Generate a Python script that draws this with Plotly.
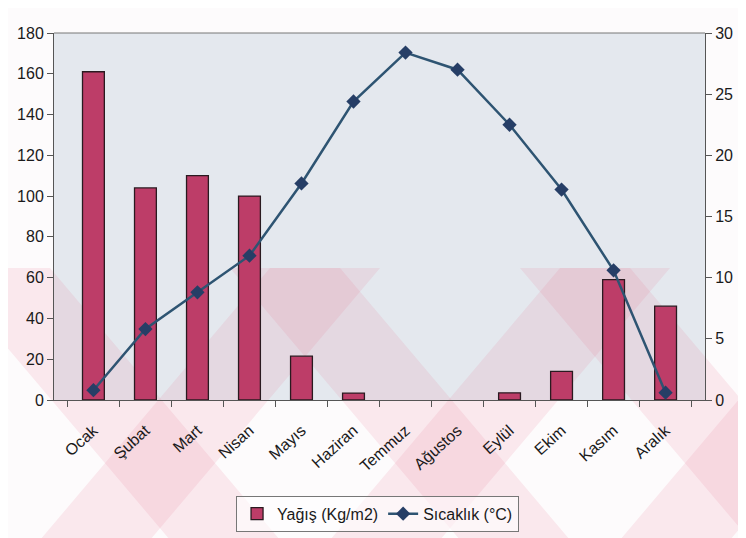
import plotly.graph_objects as go

months = ['Ocak', 'Şubat', 'Mart', 'Nisan', 'Mayıs', 'Haziran',
          'Temmuz', 'Ağustos', 'Eylül', 'Ekim', 'Kasım', 'Aralık']
rain = [161, 104, 110, 100, 21.5, 3.4, 0, 0, 3.5, 14, 59, 46]
temp = [0.8, 5.8, 8.8, 11.8, 17.7, 24.4, 28.4, 27.0, 22.5, 17.2, 10.6, 0.6]

fig = go.Figure()

# Precipitation bars on the left axis (no outline for empty months)
fig.add_trace(go.Bar(
    x=months,
    y=rain,
    name='Yağış (Kg/m2)',
    marker=dict(color='#BD3D68',
                line=dict(color='#2A1A20', width=[1.3 if v > 0 else 0 for v in rain])),
    width=0.42
))

# Temperature line on the right axis
fig.add_trace(go.Scatter(
    x=months,
    y=temp,
    name='Sıcaklık (°C)',
    mode='lines+markers',
    yaxis='y2',
    line=dict(color='#2E5472', width=2.5),
    marker=dict(symbol='diamond', size=11, color='#263E66')
))


# faint pink watermark of the scanned page, given in window pixels
def to_paper(px, py):
    return (px - 54) / 651, (400 - py) / 367


def band(x_top, x_bot, w, top=268, bottom=540):
    pts = [(x_top, top), (x_top + w, top), (x_bot + w, bottom), (x_bot, bottom)]
    pts = [to_paper(*p) for p in pts]
    return 'M ' + ' L '.join(f'{a:.4f} {b:.4f}' for a, b in pts) + ' Z'


stripes = []
for start in [-60, 230, 520]:
    stripes.append(band(start, start + 230, 110))   # "\" direction
for start in [40, 330, 620]:
    stripes.append(band(start + 230, start, 110))   # "/" direction

shapes = [dict(type='path', xref='paper', yref='paper', path=p,
               fillcolor='rgba(232,110,140,0.13)', line=dict(width=0),
               layer='below') for p in stripes]
shapes.append(dict(type='line', xref='paper', yref='paper', x0=0, x1=1, y0=1, y1=1,
                   line=dict(color='#777777', width=1)))

# the page body adds an 8px offset, so the figure is 8px smaller than the window
fig.update_layout(
    width=738,
    height=530,
    margin=dict(l=46, r=41, t=25, b=138, autoexpand=False),
    paper_bgcolor='#FDFBFC',
    plot_bgcolor='#E4E8EE',
    font=dict(family='Liberation Sans, Arial, sans-serif', size=16, color='#1A1A1A'),
    showlegend=True,
    bargap=0.58,
    shapes=shapes,
    xaxis=dict(
        type='category',
        tickangle=-42,
        tickson='boundaries',
        ticks='outside',
        ticklen=6,
        tickcolor='#555555',
        ticklabelstandoff=14,
        showline=True,
        linecolor='#555555',
        showgrid=False,
        automargin=False,
        tickfont=dict(size=16)
    ),
    yaxis=dict(
        range=[0, 180],
        dtick=20,
        ticks='outside',
        ticklen=6,
        tickcolor='#555555',
        showline=True,
        linecolor='#555555',
        showgrid=False,
        zeroline=False,
        automargin=False
    ),
    yaxis2=dict(
        range=[0, 30],
        dtick=5,
        overlaying='y',
        side='right',
        ticks='outside',
        ticklen=6,
        tickcolor='#555555',
        showline=True,
        linecolor='#555555',
        showgrid=False,
        zeroline=False,
        automargin=False
    ),
    legend=dict(
        orientation='h',
        x=0.497,
        xanchor='center',
        y=-0.31,
        yanchor='middle',
        bgcolor='rgba(255,255,255,0.6)',
        bordercolor='#777777',
        borderwidth=1,
        font=dict(size=16)
    )
)

fig.write_html("out.html")
